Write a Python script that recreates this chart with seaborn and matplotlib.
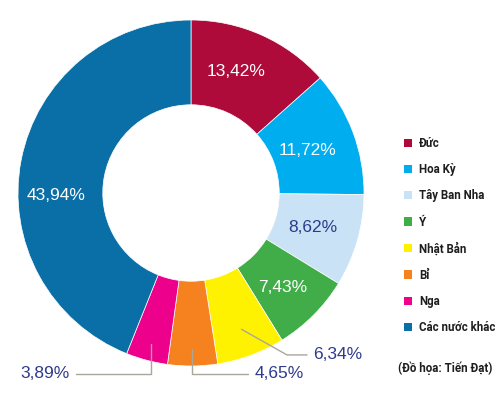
import numpy as np
import matplotlib
matplotlib.use("Agg")
import matplotlib.pyplot as plt
import seaborn as sns

# ===============================
# Data
# ===============================
countries = ['Đức', 'Hoa Kỳ', 'Tây Ban Nha', 'Ý', 'Nhật Bản', 'Bỉ', 'Nga', 'Các nước khác']
shares = [13.42, 11.72, 8.62, 7.43, 6.34, 4.65, 3.89, 43.94]
labels = ['13,42%', '11,72%', '8,62%', '7,43%', '6,34%', '4,65%', '3,89%', '43,94%']
colors = ['#AE0A3A', '#00AEEF', '#C9E2F5', '#41AD49', '#FFF200', '#F5821F', '#EC008C', '#0A6FA6']

source = '(Đồ họa: Tiến Đạt)'

sns.set_theme(style='white')
plt.rcParams['font.family'] = ['Liberation Sans', 'DejaVu Sans']

navy = '#2E3A8C'
grey = '#A9A69C'
legend_font = {'family': ['Roboto', 'DejaVu Sans'], 'size': 8.3, 'weight': 'bold'}

fig = plt.figure(figsize=(5, 3.99), dpi=100)
# pie centre at (191, 193) px, outer radius 173 px
ax = fig.add_axes([18 / 500, 33 / 399, 346 / 500, 346 / 399])
wedges, _ = ax.pie(shares, colors=colors, startangle=90, counterclock=False,
                   radius=1.0, wedgeprops=dict(width=0.49, edgecolor='white', linewidth=0.5))
ax.set_xlim(-1, 1)
ax.set_ylim(-1, 1)
ax.set_aspect('equal')
ax.axis('off')

# ===============================
# Labels inside the ring
# ===============================
inside = {0: (0.26, 0.705), 1: (0.676, 0.243), 2: (0.705, -0.197),
          3: (0.532, -0.549), 7: (-0.78, -0.015)}
for i, (x, y) in inside.items():
    col = navy if i == 2 else 'white'
    ax.text(x, y, labels[i], ha='center', va='center', color=col, fontsize=12.5)

# ===============================
# Labels outside with leader lines
# ===============================
def mid_point(w, r):
    ang = np.deg2rad((w.theta1 + w.theta2) / 2)
    return r * np.cos(ang), r * np.sin(ang)

# Nhật Bản: diagonal then horizontal
x0, y0 = mid_point(wedges[4], 0.84)
ax.plot([x0, 0.555, 0.671], [y0, -0.936, -0.936], color=grey, lw=1, clip_on=False)
ax.text(0.705, -0.936, labels[4], ha='left', va='center', color=navy, fontsize=12.5)

# Bỉ: down then right
x0, y0 = mid_point(wedges[5], 0.9)
ax.plot([x0, x0, 0.33], [y0, -1.046, -1.046], color=grey, lw=1, clip_on=False)
ax.text(0.37, -1.046, labels[5], ha='left', va='center', color=navy, fontsize=12.5)

# Nga: down then left
x0, y0 = mid_point(wedges[6], 0.9)
ax.plot([x0, x0, -0.665], [y0, -1.046, -1.046], color=grey, lw=1, clip_on=False)
ax.text(-0.7, -1.046, labels[6], ha='right', va='center', color=navy, fontsize=12.5)

# ===============================
# Legend and credit
# ===============================
leg = fig.legend(wedges, countries, loc='upper left', bbox_to_anchor=(398 / 500, 1 - 131 / 399),
                 frameon=False, borderpad=0, labelspacing=1.15, handlelength=0.75,
                 handleheight=0.75, handletextpad=0.55, prop=legend_font)
for t in leg.get_texts():
    t.set_color('#1E1E1E')
for h in leg.legend_handles:
    h.set_edgecolor('none')

fig.text(398 / 500, 1 - 368 / 399, source, ha='left', va='center', color='#1E1E1E',
         fontsize=8.3, fontweight='bold', family=['Roboto', 'DejaVu Sans'])

plt.savefig('out.png', dpi=100)
plt.close()
